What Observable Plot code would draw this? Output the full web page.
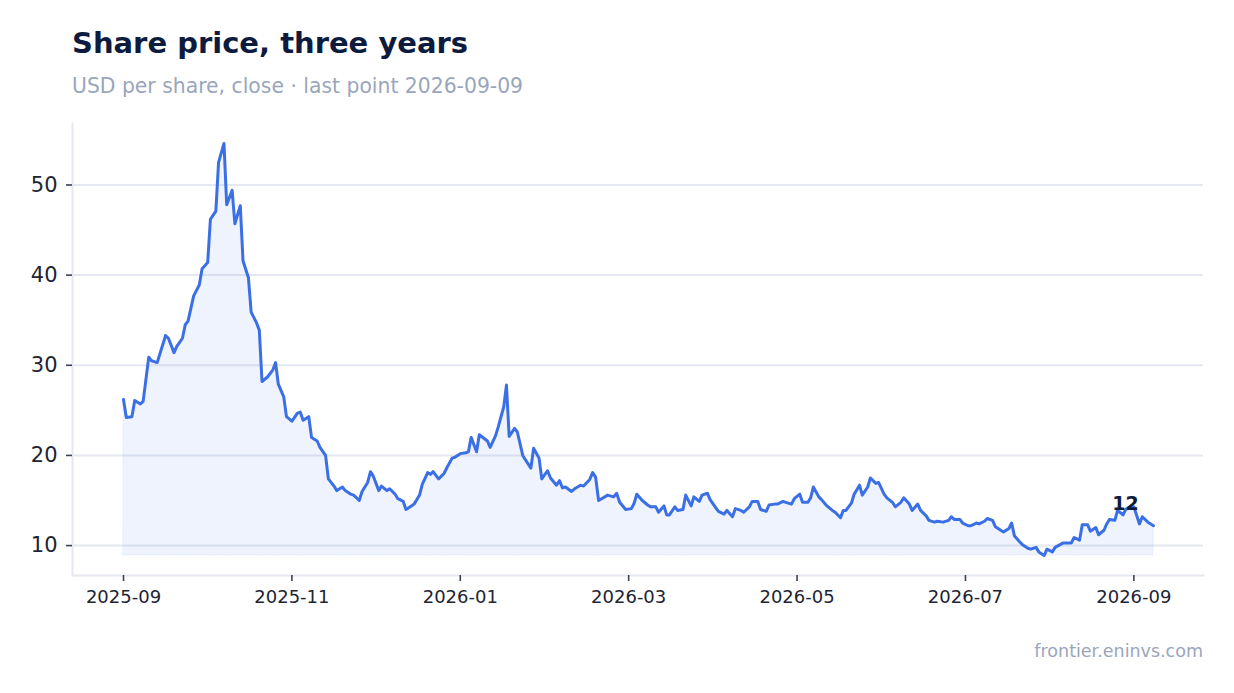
<!DOCTYPE html>
<html><head><meta charset="utf-8">
<script src="https://cdn.jsdelivr.net/npm/d3@7"></script>
<script src="https://cdn.jsdelivr.net/npm/@observablehq/plot@0.6"></script>
<style>
html,body{margin:0;padding:0;background:#fff;width:1234px;height:693px;overflow:hidden;font-family:"DejaVu Sans",sans-serif;}
#title{position:absolute;left:72px;top:28.5px;font-size:29px;line-height:29px;font-weight:bold;color:#0d1b3e;white-space:nowrap;}
#subtitle{position:absolute;left:72px;top:76px;font-size:20.35px;line-height:20px;color:#9aa6bb;white-space:nowrap;}
#chart{position:absolute;left:0;top:100px;}
#caption{position:absolute;right:31px;top:643px;font-size:17.5px;line-height:17px;color:#9aa6bb;white-space:nowrap;}
</style></head><body>
<div id="title">Share price, three years</div>
<div id="subtitle">USD per share, close · last point 2026-09-09</div>
<div id="chart"></div>
<div id="caption">frontier.eninvs.com</div>
<script>
const dates = [
"2025-09-01","2025-09-02","2025-09-04","2025-09-05","2025-09-07","2025-09-08","2025-09-10","2025-09-11","2025-09-13","2025-09-16","2025-09-17","2025-09-19","2025-09-20","2025-09-22","2025-09-23","2025-09-24","2025-09-26","2025-09-28","2025-09-29",
"2025-10-01","2025-10-02","2025-10-04","2025-10-05","2025-10-07","2025-10-08","2025-10-10","2025-10-11","2025-10-13","2025-10-14","2025-10-16","2025-10-17","2025-10-19","2025-10-20","2025-10-21","2025-10-23","2025-10-25","2025-10-26","2025-10-27","2025-10-29","2025-10-30",
"2025-11-01","2025-11-03","2025-11-04","2025-11-05","2025-11-07","2025-11-08","2025-11-10","2025-11-11","2025-11-13","2025-11-14","2025-11-16","2025-11-17","2025-11-19","2025-11-20","2025-11-22","2025-11-23","2025-11-25","2025-11-26","2025-11-28","2025-11-29","2025-11-30",
"2025-12-02","2025-12-03","2025-12-05","2025-12-06","2025-12-08","2025-12-09","2025-12-11","2025-12-12","2025-12-14","2025-12-15","2025-12-17","2025-12-18","2025-12-20","2025-12-21","2025-12-22","2025-12-24","2025-12-26","2025-12-27","2025-12-29","2025-12-30",
"2026-01-01","2026-01-03","2026-01-04","2026-01-05","2026-01-07","2026-01-08","2026-01-11","2026-01-12","2026-01-14","2026-01-15","2026-01-17","2026-01-18","2026-01-19","2026-01-21","2026-01-22","2026-01-24","2026-01-25","2026-01-27","2026-01-28","2026-01-30","2026-01-31",
"2026-02-02","2026-02-03","2026-02-05","2026-02-06","2026-02-07","2026-02-08","2026-02-10","2026-02-11","2026-02-13","2026-02-14","2026-02-16","2026-02-17","2026-02-18","2026-02-19","2026-02-20","2026-02-22","2026-02-24","2026-02-25","2026-02-26",
"2026-02-28","2026-03-02","2026-03-03","2026-03-04","2026-03-06","2026-03-08","2026-03-09","2026-03-11","2026-03-12","2026-03-14","2026-03-15","2026-03-16","2026-03-18","2026-03-19","2026-03-21","2026-03-22","2026-03-24","2026-03-25","2026-03-27","2026-03-28","2026-03-30",
"2026-03-31","2026-04-02","2026-04-03","2026-04-05","2026-04-06","2026-04-08","2026-04-09","2026-04-11","2026-04-12","2026-04-14","2026-04-15","2026-04-17","2026-04-18","2026-04-20","2026-04-21","2026-04-23","2026-04-24","2026-04-26","2026-04-27","2026-04-29",
"2026-04-30","2026-05-02","2026-05-03","2026-05-05","2026-05-06","2026-05-07","2026-05-09","2026-05-10","2026-05-12","2026-05-14","2026-05-15","2026-05-17","2026-05-18","2026-05-19","2026-05-21","2026-05-22","2026-05-24","2026-05-25","2026-05-27","2026-05-28","2026-05-30",
"2026-05-31","2026-06-02","2026-06-03","2026-06-05","2026-06-06","2026-06-08","2026-06-09","2026-06-11","2026-06-12","2026-06-14","2026-06-15","2026-06-17","2026-06-18","2026-06-20","2026-06-21","2026-06-23","2026-06-25","2026-06-26","2026-06-27","2026-06-29",
"2026-06-30","2026-07-02","2026-07-03","2026-07-05","2026-07-06","2026-07-08","2026-07-09","2026-07-11","2026-07-12","2026-07-14","2026-07-15","2026-07-17","2026-07-18","2026-07-19","2026-07-21","2026-07-22","2026-07-24","2026-07-25","2026-07-27","2026-07-28","2026-07-30",
"2026-07-31","2026-08-02","2026-08-03","2026-08-06","2026-08-07","2026-08-09","2026-08-10","2026-08-12","2026-08-13","2026-08-15","2026-08-16","2026-08-18","2026-08-19","2026-08-21","2026-08-22","2026-08-23","2026-08-25","2026-08-26","2026-08-28","2026-08-29","2026-08-31",
"2026-09-01","2026-09-03","2026-09-04","2026-09-06","2026-09-08"
];
const closes = [
26.2,24.2,24.3,26.1,25.7,26.0,30.9,30.5,30.3,33.3,33.0,31.4,32.1,33.0,34.5,34.9,37.7,38.9,40.7,
41.4,46.2,47.1,52.5,54.6,47.8,49.4,45.7,47.7,41.6,39.7,35.9,34.7,33.9,28.2,28.7,29.5,30.3,27.9,26.5,24.3,
23.8,24.7,24.8,23.9,24.3,22.0,21.6,20.9,20.0,17.4,16.6,16.1,16.5,16.1,15.7,15.6,15.0,16.0,17.0,18.2,17.7,
16.1,16.6,16.1,16.3,15.7,15.2,14.9,14.0,14.4,14.6,15.6,16.8,18.1,17.9,18.2,17.4,18.0,18.6,19.7,19.8,
20.2,20.3,20.4,22.0,20.4,22.3,21.6,20.9,22.2,23.2,25.4,27.8,22.1,23.0,22.6,20.0,19.5,18.6,20.8,19.7,17.4,
18.3,17.5,16.7,17.2,16.4,16.5,16.0,16.3,16.7,16.6,17.3,18.1,17.6,15.0,15.2,15.6,15.4,15.8,14.8,
14.0,14.1,14.7,15.7,15.0,14.5,14.3,14.3,13.7,14.4,13.4,13.4,14.3,13.9,14.0,15.6,14.4,15.4,14.9,15.6,15.8,
15.1,14.2,13.8,13.5,13.9,13.2,14.1,13.9,13.7,14.3,14.9,14.9,14.0,13.8,14.5,14.6,14.6,14.9,14.8,14.6,
15.2,15.7,14.8,14.8,15.3,16.5,15.4,15.1,14.4,13.9,13.7,13.1,13.9,13.9,14.7,15.7,16.7,15.6,16.5,17.5,16.9,
17.0,15.7,15.3,14.8,14.3,14.8,15.3,14.6,13.9,14.6,13.9,13.3,12.8,12.6,12.7,12.6,12.8,13.2,12.9,12.9,
12.5,12.2,12.2,12.5,12.4,12.7,13.0,12.8,12.1,11.7,11.5,11.9,12.5,11.1,10.4,10.1,9.7,9.6,9.8,9.3,8.9,
9.6,9.3,9.8,10.3,10.3,10.3,10.9,10.6,12.3,12.3,11.6,12.0,11.2,11.7,12.4,12.9,12.8,13.9,13.4,14.0,14.4,
14.3,12.4,13.2,12.6,12.2
];
const xTicks = ["2025-09","2025-11","2026-01","2026-03","2026-05","2026-07","2026-09"];
const yTicks = [10, 20, 30, 40, 50];

const lineColor = "#3b6fe5";
// position along the axis in months since 2025-09 (each month the same width)
const monthPos = s => {
  const d = new Date(s + (s.length === 7 ? "-01" : "") + "T00:00:00Z");
  const y = d.getUTCFullYear(), m = d.getUTCMonth();
  const dim = new Date(Date.UTC(y, m + 1, 0)).getUTCDate();
  return (y - 2025) * 12 + (m - 8) + (d.getUTCDate() - 1) / dim;
};
const data = dates.map((d, i) => ({date: d, pos: monthPos(d), value: closes[i]}));
const minV = d3.min(data, d => d.value);
const last = data[data.length - 1];
const tickPos = xTicks.map(monthPos);
const tickLabel = new Map(tickPos.map((p, i) => [p, xTicks[i]]));

const chart = Plot.plot({
  width: 1234, height: 525,
  marginLeft: 72, marginRight: 31, marginTop: 23, marginBottom: 50,
  style: {fontFamily: "DejaVu Sans", fontSize: "18px", color: "#1d2433", background: "#fff"},
  x: {type: "linear", insetLeft: 51, insetRight: 50},
  y: {inset: 20},
  marks: [
    Plot.gridY({ticks: yTicks, stroke: "#e5e8f0", strokeOpacity: 1, strokeWidth: 2}),
    Plot.frame({anchor: "left", stroke: "#e5e8f0", strokeWidth: 2}),
    Plot.frame({anchor: "bottom", stroke: "#e5e8f0", strokeWidth: 2}),
    Plot.areaY(data, {x: "pos", y1: minV, y2: "value", fill: lineColor, fillOpacity: 0.085, stroke: lineColor, strokeOpacity: 0.08}),
    Plot.lineY(data, {x: "pos", y: "value", stroke: lineColor, strokeWidth: 3}),
    Plot.axisY({ticks: yTicks, tickSize: 6, tickPadding: 9, label: null, stroke: "#3b4252", strokeWidth: 1.6, fontSize: 21}),
    Plot.axisX({ticks: tickPos, tickFormat: p => tickLabel.get(p), tickSize: 6, tickPadding: 9, label: null, stroke: "#3b4252", strokeWidth: 1.6, fontSize: 18}),
    Plot.text([last], {x: "pos", y: "value", text: d => d3.format(".0f")(d.value), dx: -28, dy: -22, fontWeight: "bold", fontSize: 19, fill: "#0d1b3e"})
  ]
});
document.getElementById("chart").appendChild(chart);
</script>
</body></html>
